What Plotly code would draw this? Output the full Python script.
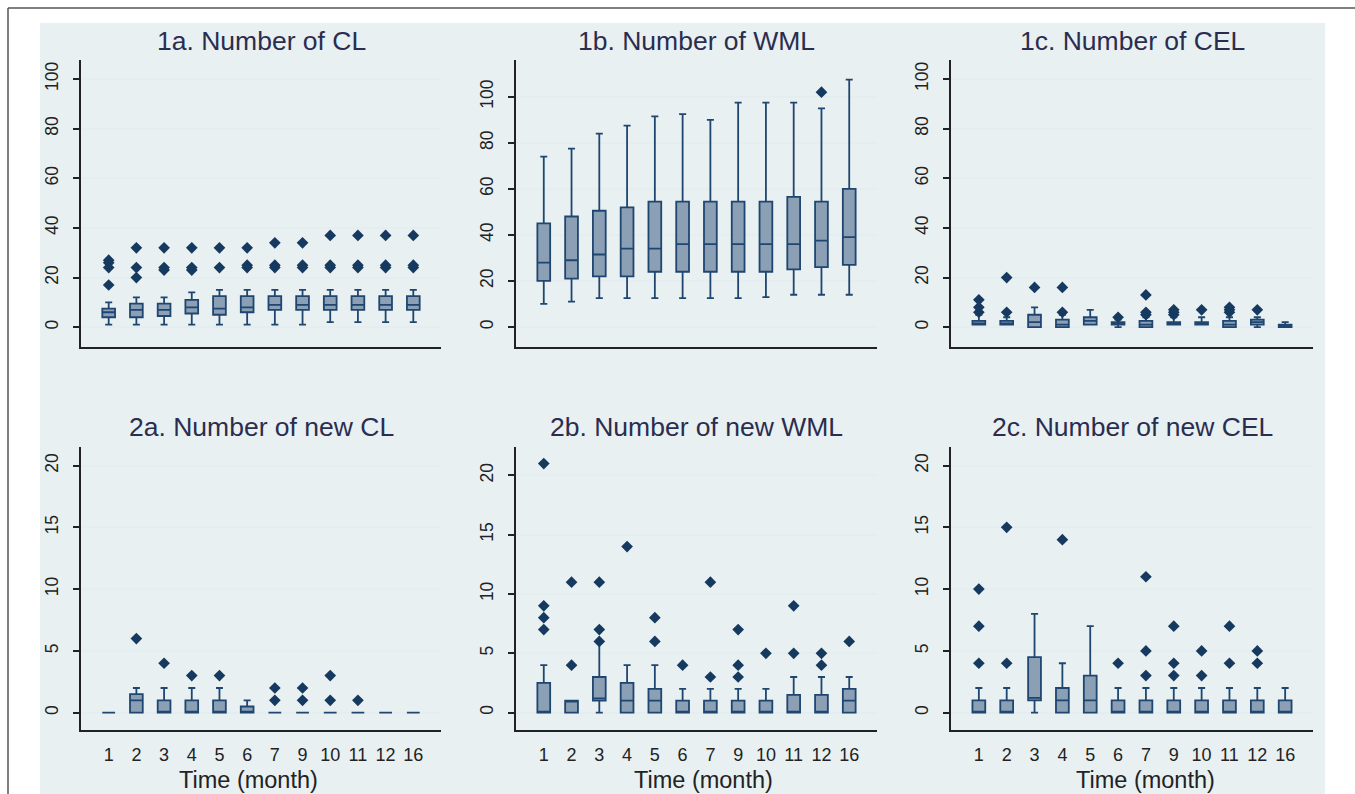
import plotly.graph_objects as go

W, H = 1355, 794

months = ["1", "2", "3", "4", "5", "6", "7", "9", "10", "11", "12", "16"]

# ---- 1a. Number of CL ----
cl_q1 = [4, 4, 4.5, 5.5, 5, 6, 7, 7, 7, 7, 7, 7]
cl_med = [6, 7, 7, 8, 7.5, 8, 9, 9, 9, 9, 9, 9]
cl_q3 = [7.5, 9.5, 9.5, 11, 12.5, 12.5, 12.5, 12.5, 12.5, 12.5, 12.5, 12.5]
cl_lo = [1, 1, 1, 1, 1, 1, 1, 1, 2, 2, 2, 2]
cl_hi = [10, 12, 12, 14, 15, 15, 15, 15, 15, 15, 15, 15]
cl_out = [[17, 24, 26, 27], [20, 24, 32], [23, 24, 32], [23, 24, 32], [24, 32],
          [24, 25, 32], [24, 25, 34], [24, 25, 34], [24, 25, 37], [24, 25, 37],
          [24, 25, 37], [24, 25, 37]]

# ---- 1b. Number of WML ----
wml_q1 = [20, 21, 22, 22, 24, 24, 24, 24, 24, 25, 26, 27]
wml_med = [28, 29, 31.5, 34, 34, 36, 36, 36, 36, 36, 37.5, 39]
wml_q3 = [45, 48, 50.5, 52, 54.5, 54.5, 54.5, 54.5, 54.5, 56.5, 54.5, 60]
wml_lo = [10, 11, 12.5, 12.5, 12.5, 12.5, 12.5, 12.5, 13, 14, 14, 14]
wml_hi = [74, 77.5, 84, 87.5, 91.5, 92.5, 90, 97.5, 97.5, 97.5, 95, 107.5]
wml_out = [[], [], [], [], [], [], [], [], [], [], [102], []]

# ---- 1c. Number of CEL ----
cel_q1 = [1, 1, 0, 0, 1, 1, 0, 1, 1, 0, 1, 0]
cel_med = [1.5, 1.5, 2, 1, 2.5, 1, 1, 1, 1, 1, 2, 0.5]
cel_q3 = [2.5, 2.5, 5, 3, 4, 2, 2.5, 2, 2, 2.5, 3, 1]
cel_lo = [1, 1, 0, 0, 1, 0, 0, 1, 1, 0, 0, 0]
cel_hi = [5, 4, 8, 5, 7, 3, 4, 4, 4, 4, 4, 2]
cel_out = [[6, 8, 11], [6, 20], [16], [6, 16], [], [4], [5, 6, 13], [5, 6, 7],
           [7], [6, 7, 8], [7], []]

# ---- 2a. Number of new CL ----
ncl_q1 = [0, 0, 0, 0, 0, 0, 0, 0, 0, 0, 0, 0]
ncl_med = [0, 1, 0, 0, 0, 0, 0, 0, 0, 0, 0, 0]
ncl_q3 = [0, 1.5, 1, 1, 1, 0.5, 0, 0, 0, 0, 0, 0]
ncl_lo = [0, 0, 0, 0, 0, 0, 0, 0, 0, 0, 0, 0]
ncl_hi = [0, 2, 2, 2, 2, 1, 0, 0, 0, 0, 0, 0]
ncl_out = [[], [6], [4], [3], [3], [], [1, 2], [1, 2], [1, 3], [1], [], []]

# ---- 2b. Number of new WML ----
nwml_q1 = [0, 0, 1, 0, 0, 0, 0, 0, 0, 0, 0, 0]
nwml_med = [0, 1, 1.2, 1, 1, 0, 0, 0, 0, 0, 0, 1]
nwml_q3 = [2.5, 1, 3, 2.5, 2, 1, 1, 1, 1, 1.5, 1.5, 2]
nwml_lo = [0, 0, 0, 0, 0, 0, 0, 0, 0, 0, 0, 0]
nwml_hi = [4, 1, 6, 4, 4, 2, 2, 2, 2, 3, 3, 3]
nwml_out = [[7, 8, 9, 21], [4, 11], [6, 7, 11], [14], [6, 8], [4], [3, 11],
            [3, 4, 7], [5], [5, 9], [4, 5], [6]]

# ---- 2c. Number of new CEL ----
ncel_q1 = [0, 0, 1, 0, 0, 0, 0, 0, 0, 0, 0, 0]
ncel_med = [0, 0, 1.2, 1, 1, 0, 0, 0, 0, 0, 0, 0]
ncel_q3 = [1, 1, 4.5, 2, 3, 1, 1, 1, 1, 1, 1, 1]
ncel_lo = [0, 0, 0, 0, 0, 0, 0, 0, 0, 0, 0, 0]
ncel_hi = [2, 2, 8, 4, 7, 2, 2, 2, 2, 2, 2, 2]
ncel_out = [[4, 7, 10], [4, 15], [], [14], [], [4], [3, 5, 11], [3, 4, 7],
            [3, 5], [4, 7], [4, 5], []]

titles = ["1a. Number of CL", "1b. Number of WML", "1c. Number of CEL",
          "2a. Number of new CL", "2b. Number of new WML", "2c. Number of new CEL"]
x_title = "Time (month)"
ticks_top = [0, 20, 40, 60, 80, 100]
ticks_bottom = [0, 5, 10, 15, 20]

panels = [
    (cl_q1, cl_med, cl_q3, cl_lo, cl_hi, cl_out),
    (wml_q1, wml_med, wml_q3, wml_lo, wml_hi, wml_out),
    (cel_q1, cel_med, cel_q3, cel_lo, cel_hi, cel_out),
    (ncl_q1, ncl_med, ncl_q3, ncl_lo, ncl_hi, ncl_out),
    (nwml_q1, nwml_med, nwml_q3, nwml_lo, nwml_hi, nwml_out),
    (ncel_q1, ncel_med, ncel_q3, ncel_lo, ncel_hi, ncel_out),
]

# layout geometry (pixels)
col_px = [(81, 441), (516, 877), (951, 1313)]
row_px = [(60, 347), (447, 730)]
yranges = [[-8, 107.7], [-8.7, 116], [-8, 107.7],
           [-1.4, 21.5], [-1.47, 22.4], [-1.4, 21.5]]

BOX_LINE = "#1f4670"
BOX_FILL = "#8b9fb5"
MARK = "#163a5f"
AXIS = "#222222"
GRID = "#e4edef"
BG = "#e8f0f2"
FONT = "Liberation Sans, Arial, sans-serif"

fig = go.Figure()
layout = dict(
    width=W, height=H, autosize=False,
    margin=dict(l=0, r=0, t=0, b=0),
    paper_bgcolor="white", plot_bgcolor="white",
    showlegend=False,
    font=dict(family=FONT, color=AXIS),
    shapes=[], annotations=[],
)

for i, (q1, med, q3, lo, hi, out) in enumerate(panels):
    r, c = divmod(i, 3)
    n = "" if i == 0 else str(i + 1)
    xa, ya = "x" + n, "y" + n
    x0, x1 = col_px[c]
    yt, yb = row_px[r]
    fig.add_trace(go.Box(
        x=months, q1=q1, median=med, q3=q3, lowerfence=lo, upperfence=hi,
        boxpoints=False, width=0.46, whiskerwidth=0.55,
        fillcolor=BOX_FILL, line=dict(color=BOX_LINE, width=1.8),
        xaxis=xa, yaxis=ya,
    ))
    ox, oy = [], []
    for m, vals in zip(months, out):
        for v in vals:
            ox.append(m)
            oy.append(v)
    fig.add_trace(go.Scatter(
        x=ox, y=oy, mode="markers",
        marker=dict(symbol="diamond", size=9, color=MARK),
        xaxis=xa, yaxis=ya,
    ))
    layout["xaxis" + n] = dict(
        domain=[x0 / W, x1 / W], anchor=ya, type="category",
        categoryorder="array", categoryarray=months, range=[-1, 12],
        showline=True, linecolor=AXIS, linewidth=2, showgrid=False,
        zeroline=False, ticks="", showticklabels=(r == 1),
        tickfont=dict(size=18, color=AXIS), ticklabelstandoff=7,
    )
    layout["yaxis" + n] = dict(
        domain=[1 - yb / H, 1 - yt / H], anchor=xa, range=yranges[i],
        tickvals=ticks_top if r == 0 else ticks_bottom,
        showline=True, linecolor=AXIS, linewidth=2,
        ticks="outside", ticklen=6, tickwidth=1.5, tickcolor=AXIS,
        tickangle=-90, tickfont=dict(size=17.5, color=AXIS), ticklabelstandoff=8,
        showgrid=True, gridcolor=GRID, gridwidth=2, zeroline=False,
    )
    layout["annotations"].append(dict(
        text=titles[i], xref="paper", yref="paper",
        x=(x0 + x1) / 2 / W, y=1 - (41 if r == 0 else 427) / H,
        xanchor="center", yanchor="middle", showarrow=False,
        font=dict(size=26.5, color="#2b2d4f", family=FONT),
    ))

for cx in [248, 703, 1145]:
    layout["annotations"].append(dict(
        text=x_title, xref="paper", yref="paper",
        x=cx / W, y=1 - 780 / H, xanchor="center", yanchor="middle",
        showarrow=False, font=dict(size=23.5, color=AXIS, family=FONT),
    ))

# light graph-region background and outer frame
layout["shapes"] += [
    dict(type="rect", xref="paper", yref="paper", layer="below",
         x0=40 / W, x1=1325 / W, y0=0, y1=1 - 23 / H,
         fillcolor=BG, line=dict(width=0)),
    dict(type="line", xref="paper", yref="paper",
         x0=8 / W, x1=1, y0=1 - 8 / H, y1=1 - 8 / H,
         line=dict(color="#555555", width=1.5)),
    dict(type="line", xref="paper", yref="paper",
         x0=8 / W, x1=8 / W, y0=0, y1=1 - 8 / H,
         line=dict(color="#555555", width=1.5)),
]

fig.update_layout(**layout)
fig.write_html(
    "out.html",
    config={"displayModeBar": False},
    post_script="document.body.style.margin='0';document.body.style.padding='0';"
                "document.body.style.overflow='hidden';",
)
